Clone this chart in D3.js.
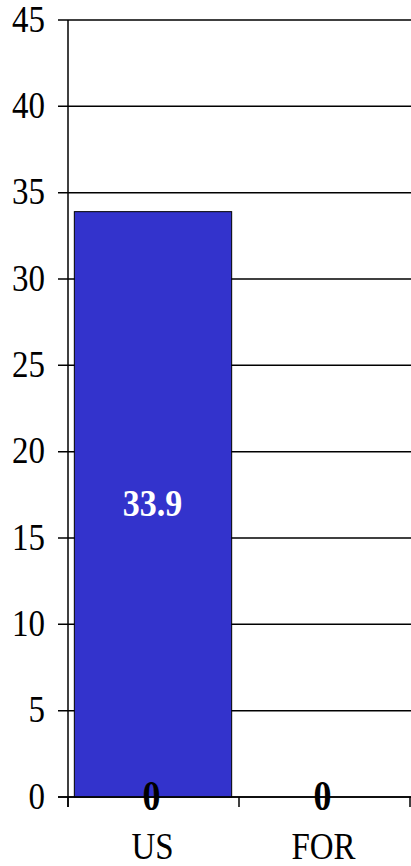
<!DOCTYPE html>
<html><head><meta charset="utf-8">
<script src="https://cdn.jsdelivr.net/npm/d3@7"></script>
<style>html,body{margin:0;padding:0;background:#fff;}svg{display:block;}</style>
</head><body>
<svg id="c" width="411" height="866"></svg>
<script>
const categories = ["US", "FOR"];
const seriesMain = [33.9, 0];
const seriesZero = [0, 0];
const yTicks = [0, 5, 10, 15, 20, 25, 30, 35, 40, 45];

(function () {
const svg = d3.select("#c");
const mLeft = 68, mRight = 410, mTop = 20, mBottom = 797;
const y = d3.scaleLinear().domain([0, 45]).range([mBottom, mTop]);
const x = d3.scaleBand().domain(categories).range([mLeft, mRight]).paddingInner(0).paddingOuter(0);
const font = "'Liberation Serif','Times New Roman',serif";
const sy = 1.12;

// gridlines
svg.append("g").selectAll("line").data(yTicks).join("line")
  .attr("x1", mLeft - 10).attr("x2", 411)
  .attr("y1", d => y(d)).attr("y2", d => y(d))
  .attr("stroke", "#000").attr("stroke-width", 1.5);

// y tick labels
svg.append("g").selectAll("text").data(yTicks).join("text")
  .attr("transform", d => `translate(${mLeft - 23},${y(d) + 11.5}) scale(1,${sy})`)
  .attr("text-anchor", "end")
  .attr("font-family", font).attr("font-size", 33)
  .text(d => d);

// bars
const gap = x.bandwidth() * 0.037;
const mainData = categories.map((c, i) => ({c, v: seriesMain[i]})).filter(d => d.v > 0);
svg.append("g").selectAll("rect").data(mainData).join("rect")
  .attr("x", d => x(d.c) + gap)
  .attr("width", x.bandwidth() - 2 * gap - 1)
  .attr("y", d => y(d.v))
  .attr("height", d => y(0) - y(d.v))
  .attr("fill", "#3333CC").attr("stroke", "#000").attr("stroke-width", 1);

// x axis line (zero) on top of bars
svg.append("line").attr("x1", mLeft - 10).attr("x2", 411).attr("y1", y(0)).attr("y2", y(0))
  .attr("stroke", "#000").attr("stroke-width", 1.5);
// y axis
svg.append("line").attr("x1", mLeft).attr("x2", mLeft).attr("y1", mTop).attr("y2", mBottom + 10)
  .attr("stroke", "#000").attr("stroke-width", 1.5);
// x ticks at band boundaries
const bounds = [mLeft].concat(categories.map(c => x(c) + x.bandwidth()));
svg.append("g").selectAll("line").data(bounds).join("line")
  .attr("x1", d => d).attr("x2", d => d).attr("y1", mBottom).attr("y2", mBottom + 10)
  .attr("stroke", "#000").attr("stroke-width", 1.5);

// value labels inside bar
svg.append("g").selectAll("text").data(mainData).join("text")
  .attr("transform", d => `translate(${x(d.c) + x.bandwidth() / 2 - 1},${(y(d.v) + y(0)) / 2 + 12}) scale(1,${sy})`)
  .attr("text-anchor", "middle")
  .attr("font-family", font).attr("font-size", 34).attr("font-weight", "bold")
  .attr("fill", "#fff")
  .text(d => d.v.toFixed(1));

// zero labels
svg.append("g").selectAll("text").data(categories.map((c, i) => ({c, v: seriesZero[i]}))).join("text")
  .attr("transform", d => `translate(${x(d.c) + x.bandwidth() / 2 - 2},${y(d.v) + 13}) scale(1,${sy + 0.05})`)
  .attr("text-anchor", "middle")
  .attr("font-family", font).attr("font-size", 36).attr("font-weight", "bold")
  .attr("fill", "#000")
  .text(d => d.v);

// category labels
svg.append("g").selectAll("text").data(categories).join("text")
  .attr("transform", d => `translate(${x(d) + x.bandwidth() / 2 - 1},859) scale(1,1.12)`)
  .attr("text-anchor", "middle")
  .attr("font-family", font).attr("font-size", 33)
  .text(d => d);
})();
</script>
</body></html>
